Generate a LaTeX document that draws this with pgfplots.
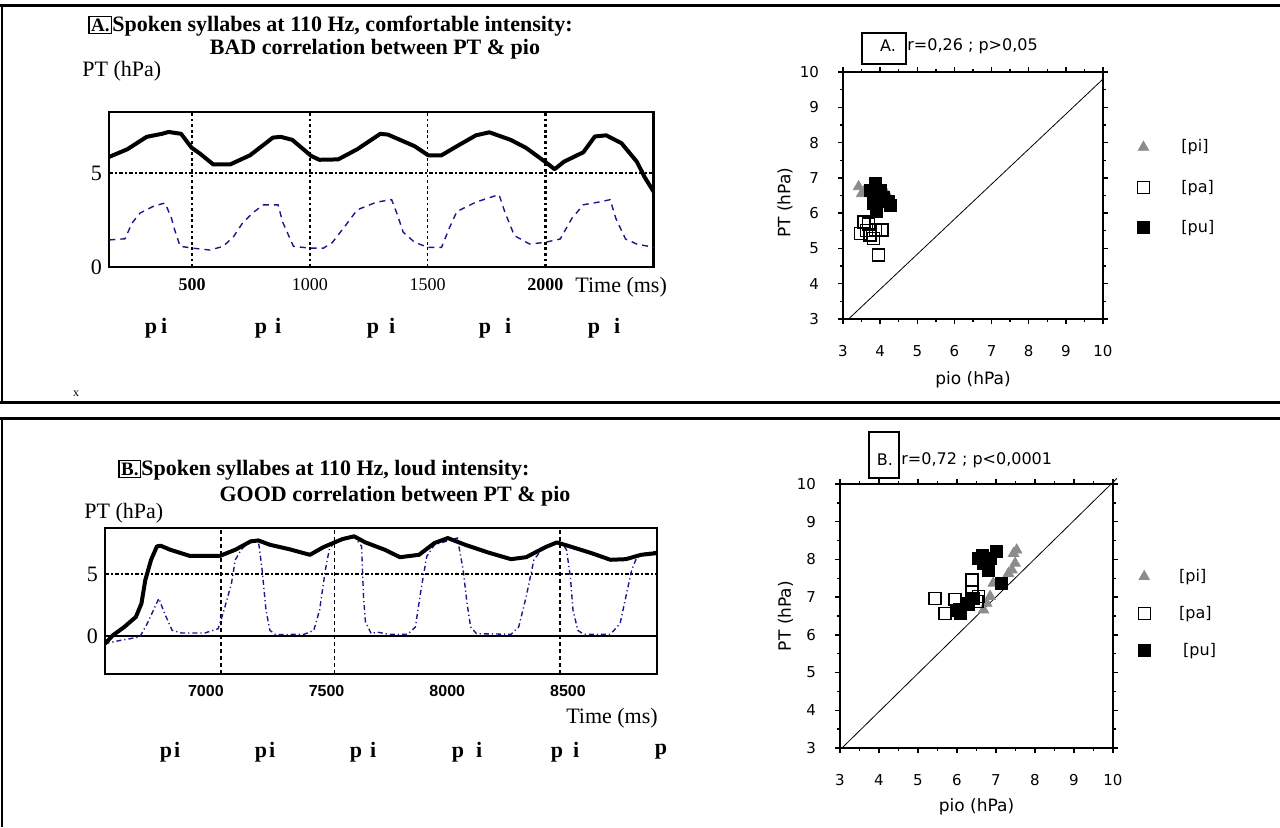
\documentclass[border=0pt]{standalone}
\usepackage{fontspec}
\setmainfont{Liberation Serif}
\newfontfamily\scat{DejaVu Sans}
\newfontfamily\lsans{Liberation Sans}
\usepackage{pgfplots}
\pgfplotsset{compat=1.18}
\definecolor{navy}{RGB}{25,25,140}
\definecolor{trigray}{RGB}{140,140,140}
\newcommand\tf{\bfseries\fontsize{11}{13}\selectfont}
\newcommand\lf{\fontsize{11}{13}\selectfont}
\newcommand\bx[1]{\fbox{\fontsize{9.5}{10}\selectfont #1}}
\setlength\fboxsep{0.8pt}
\setlength\fboxrule{0.6pt}

\pgfplotsset{
  scat/.style={
    scale only axis,
    xmin=3, xmax=10, ymin=3, ymax=10,
    xtick={3,...,10}, ytick={3,...,10},
    minor x tick num=1, minor y tick num=1,
    tick align=outside, major tick length=2.5pt, minor tick length=1.5pt,
    axis line style={line width=0.8pt},
    every tick/.style={black, line width=0.7pt},
    /pgf/number format/assume math mode=true,
    tick label style={font=\scat\fontsize{7.5}{9}\selectfont},
    xticklabel style={yshift=-7pt}, yticklabel style={xshift=-6pt},
    label style={font=\scat\fontsize{8.5}{10}\selectfont},
    legend style={draw=none, fill=none, font=\scat\fontsize{8}{10}\selectfont,
      row sep=8.5pt, anchor=north west},
    legend cell align=left,
  },
  pi/.style={only marks, mark=triangle*, mark size=3pt, trigray, mark options={fill=trigray, draw=trigray}},
  pa/.style={only marks, mark=square, mark size=3pt, black, mark options={line width=0.7pt}},
  pu/.style={only marks, mark=square*, mark size=3pt, black},
}

\begin{document}
\begin{tikzpicture}
\useasboundingbox (0,0) rectangle (640pt,413.5pt);
\fill[white] (0,0) rectangle (640pt,413.5pt);

% frames and text, in pixel units of the reference (y downwards)
\begin{scope}[x=0.5pt, y=-0.5pt, yshift=413.5pt]
  \draw[line width=1.5pt] (0,6) -- (1280,6);
  \draw[line width=1.2pt] (2,6) -- (2,402);
  \draw[line width=1.5pt] (0,402) -- (1280,402);
  \draw[line width=1.5pt] (0,418) -- (1280,418);
  \draw[line width=1.2pt] (2,418) -- (2,827);

  % panel A, left
  \node[anchor=west, font=\tf, inner sep=0] at (88,26) {\bx{A.}Spoken syllabes at 110 Hz, comfortable intensity:};
  \node[font=\tf] at (375,49) {BAD correlation between PT \& pio};
  \node[anchor=west, font=\lf, inner sep=0] at (82,71) {PT (hPa)};
  \node[anchor=west, font=\lf, inner sep=0] at (575,287) {Time (ms)};
  \foreach \x/\s in {156/2pt,268/4pt,381/5pt,495/7pt,604/7pt}
    \node[font=\tf] at (\x,328) {p\hspace{\s}i};
  \node[font=\fontsize{6}{7}\selectfont] at (76,394) {x};

  % panel A, right
  \draw[line width=0.6pt] (862,33) rectangle (906,64);
  \node[font=\scat\fontsize{8}{10}\selectfont] at (888,46) {A.};
  \node[anchor=west, font=\scat\fontsize{8}{10}\selectfont, inner sep=0] at (907,46) {r=0,26 ; p>0,05};

  % panel B, left
  \node[anchor=west, font=\tf, inner sep=0] at (118,470) {\bx{B.}Spoken syllabes at 110 Hz, loud intensity:};
  \node[font=\tf] at (395,496) {GOOD correlation between PT \& pio};
  \node[anchor=west, font=\lf, inner sep=0] at (84,513) {PT (hPa)};
  \node[font=\lf] at (612,718) {Time (ms)};
  \foreach \x/\s in {170/1pt,265/1pt,363/4pt,467/6pt,565/5pt}
    \node[font=\tf] at (\x,752) {p\hspace{\s}i};
  \node[font=\tf] at (661,752) {p};

  % panel B, right
  \draw[line width=0.6pt] (869,432) rectangle (899,478);
  \node[font=\scat\fontsize{8}{10}\selectfont] at (885,460) {B.};
  \node[anchor=west, font=\scat\fontsize{8}{10}\selectfont, inner sep=0] at (901,460) {r=0,72 ; p<0,0001};
\end{scope}

% ---------- A: pressure traces ----------
\begin{axis}[
  at={(54.5pt,280pt)}, anchor=south west,
  scale only axis, width=272.5pt, height=77.5pt,
  xmin=147, xmax=2461, ymin=0, ymax=8.24,
  xtick={500,1000,1500,2000},
  xticklabels={\textbf{500},1000,1500,\textbf{2000}},
  ytick={0,5},
  major tick length=0pt,
  axis line style={line width=0.9pt},
  /pgf/number format/assume math mode=true,
  xticklabel style={font=\fontsize{9}{11}\selectfont, yshift=-2pt},
  yticklabel style={font=\lf},
]
\draw[dash pattern=on 2pt off 1.2pt on 0.6pt off 1.2pt, line width=0.6pt] (axis cs:147,5) -- (axis cs:2461,5);
\draw[dash pattern=on 1.4pt off 1.4pt, line width=1.3pt] (axis cs:500,0) -- (axis cs:500,8.24);
\draw[dash pattern=on 1.4pt off 1.4pt, line width=0.6pt] (axis cs:1000,0) -- (axis cs:1000,8.24);
\draw[dash pattern=on 1.4pt off 1.4pt, line width=0.6pt] (axis cs:1500,0) -- (axis cs:1500,8.24);
\draw[dash pattern=on 1.4pt off 1.4pt, line width=1.3pt] (axis cs:2000,0) -- (axis cs:2000,8.24);
\draw[line width=1.6pt] (axis cs:2461,0) -- (axis cs:2461,8.24);
\addplot[navy, line width=0.7pt, dash pattern=on 3pt off 2.5pt] coordinates {
  (149,1.44)(215,1.50)(245,2.34)(279,2.87)(339,3.25)(385,3.40)(412,2.60)(425,2.00)
  (449,1.10)(504,1.00)(576,0.90)(632,1.10)(675,1.60)(712,2.30)(759,2.90)(802,3.30)(865,3.30)
  (884,2.40)(930,1.10)(1001,1.00)(1057,1.00)(1095,1.30)(1152,2.22)(1201,3.04)(1283,3.45)(1347,3.58)
  (1372,2.76)(1396,1.85)(1445,1.31)(1502,1.04)(1559,1.04)(1591,2.04)(1624,2.95)(1705,3.45)
  (1803,3.85)(1827,2.95)(1868,1.67)(1933,1.22)(1998,1.31)(2063,1.49)(2112,2.58)(2161,3.31)
  (2226,3.45)(2275,3.58)(2299,2.58)(2340,1.49)(2388,1.22)(2461,1.04)};
\addplot[black, line width=2pt, line join=round] coordinates {
  (149,5.86)(225,6.26)(307,6.92)(372,7.08)(400,7.18)(453,7.08)(498,6.34)(534,6.02)
  (590,5.45)(661,5.45)(746,5.94)(843,6.88)(876,6.92)(925,6.76)(1006,5.90)(1040,5.70)
  (1120,5.72)(1201,6.26)(1299,7.08)(1331,7.04)(1445,6.42)(1502,5.94)(1559,5.94)(1624,6.42)
  (1705,7.00)(1762,7.16)(1852,6.76)(1917,6.34)(1998,5.60)(2039,5.20)(2079,5.60)(2161,6.10)
  (2210,6.94)(2258,7.00)(2323,6.58)(2388,5.60)(2421,4.78)(2461,3.97)};
\end{axis}

% ---------- B: pressure traces ----------
\begin{axis}[
  at={(52.5pt,76.5pt)}, anchor=south west,
  scale only axis, width=276pt, height=73pt,
  xmin=6582, xmax=8869, ymin=-3.06, ymax=8.7,
  xtick={7000,7500,8000,8500},
  ytick={0,5},
  major tick length=0pt,
  axis line style={line width=0.9pt},
  /pgf/number format/assume math mode=true,
  /pgf/number format/1000 sep={},
  xticklabel style={font=\lsans\bfseries\fontsize{8}{10}\selectfont, yshift=-2pt},
  yticklabel style={font=\lf},
]
\draw[dash pattern=on 2pt off 1.2pt on 0.6pt off 1.2pt, line width=0.6pt] (axis cs:6582,5) -- (axis cs:8869,5);
\draw[line width=0.7pt] (axis cs:6582,0) -- (axis cs:8869,0);
\draw[dash pattern=on 2pt off 1.5pt, line width=0.6pt] (axis cs:7063,-3.06) -- (axis cs:7063,8.7);
\draw[dash pattern=on 2pt off 1.5pt, line width=0.6pt] (axis cs:7534,-3.06) -- (axis cs:7534,8.7);
\draw[dash pattern=on 2pt off 1.5pt, line width=0.6pt] (axis cs:8467,-3.06) -- (axis cs:8467,8.7);
\addplot[navy, line width=0.7pt, dash pattern=on 2.5pt off 1.5pt on 0.6pt off 1.5pt] coordinates {
  (6580,-0.62)(6646,-0.35)(6726,-0.08)(6757,1.0)(6789,2.35)(6805,3.03)(6829,1.81)(6860,0.46)
  (6900,0.24)(6995,0.24)(7051,0.59)(7075,2.08)(7106,4.24)(7122,6.14)(7146,6.95)(7185,7.7)
  (7217,7.76)(7233,5.32)(7249,2.08)(7265,0.46)(7289,0.11)(7407,0.14)(7447,0.46)(7471,2.08)
  (7495,5.32)(7511,6.95)(7534,7.62)(7614,8.03)(7645,7.22)(7653,3.16)(7661,1.14)(7685,0.19)
  (7709,0.32)(7756,0.14)(7836,0.14)(7868,0.73)(7891,3.7)(7915,6.41)(7947,7.35)(8042,7.89)
  (8066,5.32)(8082,2.62)(8097,0.73)(8121,0.19)(8264,0.14)(8296,0.73)(8327,3.16)(8359,6.14)
  (8391,6.95)(8470,7.62)(8494,6.95)(8510,4.78)(8521,2.08)(8541,0.46)(8565,0.14)(8676,0.14)
  (8716,1.0)(8740,3.16)(8764,5.32)(8787,6.41)(8819,6.68)(8869,6.81)};
\addplot[black, line width=2pt, line join=round] coordinates {
  (6582,-0.62)(6614,0.05)(6662,0.73)(6710,1.54)(6733,2.62)(6749,4.51)(6773,6.14)(6797,7.22)
  (6813,7.27)(6852,6.95)(6932,6.46)(7059,6.46)(7122,6.95)(7185,7.62)(7217,7.7)(7265,7.35)
  (7344,7.0)(7431,6.54)(7487,7.16)(7566,7.81)(7614,8.03)(7661,7.54)(7741,6.95)(7804,6.35)
  (7883,6.54)(7947,7.49)(8002,7.89)(8074,7.35)(8169,6.73)(8264,6.19)(8327,6.35)(8407,7.16)
  (8454,7.54)(8518,7.16)(8597,6.68)(8676,6.14)(8740,6.19)(8803,6.54)(8869,6.68)};
\end{axis}

% ---------- A: scatter ----------
\begin{axis}[scat,
  at={(421.5pt,254pt)}, anchor=south west, width=130pt, height=123.5pt,
  xlabel={pio (hPa)}, ylabel={PT (hPa)},
  xlabel style={at={(rel axis cs:0.5,-0.248)}, anchor=center},
  ylabel style={at={(rel axis cs:-0.223,0.47)}, anchor=center},
  legend style={at={(1.108,0.76)}},
]
\addplot[black, line width=0.4pt, forget plot] coordinates {(3.15,3)(10,9.8)};
\addplot[pi] coordinates {(3.42,6.75)(3.55,6.60)(4.14,6.60)(4.23,6.46)(3.50,6.55)};
\addlegendentry{\hspace{14pt}[pi]}
\addplot[pa] coordinates {(3.56,5.75)(3.47,5.42)(3.69,5.69)(3.73,5.38)(3.82,5.28)(3.87,5.52)(4.05,5.52)(3.96,4.81)(3.64,5.50)};
\addlegendentry{\hspace{14pt}[pa]}
\addplot[pu] coordinates {(3.87,6.84)(3.82,6.56)(4.00,6.65)(3.96,6.37)(4.23,6.32)(3.82,6.27)(3.91,6.04)(3.73,6.65)(4.09,6.46)(4.27,6.23)};
\addlegendentry{\hspace{14pt}[pu]}
\end{axis}

% ---------- B: scatter ----------
\begin{axis}[scat,
  at={(420pt,39.5pt)}, anchor=south west, width=136.5pt, height=132pt,
  clip=false,
  xlabel={pio (hPa)}, ylabel={PT (hPa)},
  xlabel style={at={(rel axis cs:0.5,-0.223)}, anchor=center},
  ylabel style={at={(rel axis cs:-0.2,0.5)}, anchor=center},
  legend style={at={(1.069,0.71)}, row sep=7pt},
]
\addplot[black, line width=0.4pt, forget plot] coordinates {(3.05,3)(10.1,10.15)};
\addplot[pi] coordinates {(6.68,6.66)(6.76,6.84)(6.93,7.37)(7.32,7.63)(7.45,8.16)(7.49,7.90)(7.41,7.72)(7.53,8.25)(6.85,7.02)};
\addlegendentry{\hspace{12.5pt}[pi]}
\addplot[pa] coordinates {(5.44,6.97)(5.69,6.57)(5.95,6.93)(6.38,7.46)(6.38,7.15)(6.29,6.80)(6.55,7.02)(6.51,6.88)(6.08,6.66)};
\addlegendentry{\hspace{12.5pt}[pa]}
\addplot[pu] coordinates {(5.99,6.66)(6.08,6.57)(6.29,6.84)(6.42,6.97)(6.64,8.12)(6.68,7.90)(6.81,7.72)(7.02,8.21)(6.85,8.03)(7.15,7.37)(6.55,8.03)};
\addlegendentry{\hspace{14.5pt}[pu]}
\end{axis}
\end{tikzpicture}
\end{document}
